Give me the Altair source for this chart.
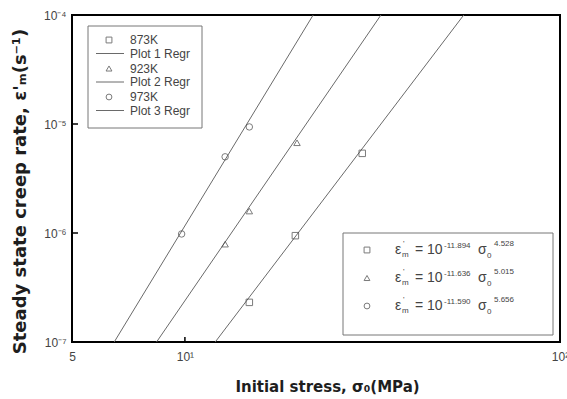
import altair as alt
import pandas as pd
import numpy as np

# Creep data: initial stress (MPa) vs steady state creep rate (1/s)
temps = ["873K", "923K", "973K"]
shapes = ["square", "triangle-up", "circle"]
intercepts = [-11.894, -11.636, -11.590]   # log10 prefactor of the power law
exponents = [4.528, 5.015, 5.656]          # stress exponent n

stress_873 = [14.85, 19.7, 29.7]
rate_873 = [2.31e-7, 9.45e-7, 5.38e-6]
stress_923 = [12.8, 14.85, 19.9]
rate_923 = [7.9e-7, 1.59e-6, 6.73e-6]
stress_973 = [9.8, 12.8, 14.85]
rate_973 = [9.8e-7, 5.0e-6, 9.4e-6]

x_ticks = [5, 10, 100]
y_ticks = [1e-7, 1e-6, 1e-5, 1e-4]
x_limits = [5, 100]
y_limits = [1e-7, 1e-4]

W, H = 488, 327
INK = "#444444"
LINE = "#6a6a6a"

xscale = alt.Scale(type="log", domain=x_limits, nice=False)
yscale = alt.Scale(type="log", domain=y_limits, nice=False)

x_axis = alt.Axis(
    values=x_ticks,
    labelExpr="datum.value < 6 ? '5' : datum.value < 50 ? '10\u00b9' : '10\u00b2'",
    labelPadding=9,
    labelFlush=False,
    labelOverlap=False,
    title="Initial stress, \u03c3\u2080(MPa)",
    titleFontSize=15,
    titleX=255, titleY=44, titleBaseline="middle", titleAlign="center",
)
y_axis = alt.Axis(
    values=y_ticks,
    labelExpr="'10' + (datum.value < 5e-7 ? '\u207b\u2077' : datum.value < 5e-6 ? '\u207b\u2076' : datum.value < 5e-5 ? '\u207b\u2075' : '\u207b\u2074')",
    labelPadding=6,
    labelFlush=False,
    labelOverlap=False,
    title="Steady state creep rate, \u03b5'\u2098(s\u207b\u00b9)",
    titleFontSize=18,
    titleAngle=270, titleX=-52, titleY=176, titleBaseline="middle", titleAlign="center",
)

series = [
    (stress_873, rate_873),
    (stress_923, rate_923),
    (stress_973, rate_973),
]

layers = []

# regression lines: log10(rate) = a + n * log10(stress)
for a, n in zip(intercepts, exponents):
    s = np.array(x_limits, dtype=float)
    fit = pd.DataFrame({"stress": s, "rate": 10 ** (a + n * np.log10(s))})
    layers.append(
        alt.Chart(fit).mark_line(color=LINE, strokeWidth=1, clip=True).encode(
            x=alt.X("stress:Q", scale=xscale, axis=x_axis),
            y=alt.Y("rate:Q", scale=yscale, axis=y_axis),
        )
    )

# measured points
for (st, rt), shp, t in zip(series, shapes, temps):
    df = pd.DataFrame({"stress": st, "rate": rt, "temp": t})
    layers.append(
        alt.Chart(df).mark_point(shape=shp, filled=False, color=INK, size=42, strokeWidth=1).encode(
            x=alt.X("stress:Q", scale=xscale),
            y=alt.Y("rate:Q", scale=yscale),
        )
    )

# inward tick marks
layers.append(
    alt.Chart(pd.DataFrame({"rate": [1e-6, 1e-5]})).mark_rule(color="black", strokeWidth=1.5).encode(
        y=alt.Y("rate:Q", scale=yscale), x=alt.value(0), x2=alt.value(6)
    )
)
layers.append(
    alt.Chart(pd.DataFrame({"stress": [10]})).mark_rule(color="black", strokeWidth=1.5).encode(
        x=alt.X("stress:Q", scale=xscale), y=alt.value(H), y2=alt.value(H - 5)
    )
)

one = pd.DataFrame({"k": [0]})


def box(x0, y0, x1, y1):
    return alt.Chart(one).mark_rect(fill="white", stroke="#777777", strokeWidth=1).encode(
        x=alt.value(x0), x2=alt.value(x1), y=alt.value(y0), y2=alt.value(y1)
    )


def label(t, x, y, size, font="Liberation Sans", color=INK, weight="normal"):
    return alt.Chart(one).mark_text(
        text=t, font=font, fontSize=size, color=color, fontWeight=weight,
        align="left", baseline="alphabetic",
    ).encode(x=alt.value(x), y=alt.value(y))


def symbol(shp, x, y):
    return alt.Chart(one).mark_point(shape=shp, filled=False, color=INK, size=34, strokeWidth=1).encode(
        x=alt.value(x), y=alt.value(y)
    )


def swatch(x0, x1, y):
    return alt.Chart(one).mark_rule(color=LINE, strokeWidth=1).encode(
        x=alt.value(x0), x2=alt.value(x1), y=alt.value(y)
    )


# key in the upper left
layers.append(box(16, 11, 130, 113))
row_y = 25
for i, (t, shp) in enumerate(zip(temps, shapes)):
    layers.append(symbol(shp, 37, row_y))
    layers.append(label(t, 58, row_y + 4, 12))
    layers.append(swatch(24, 52, row_y + 13.5))
    layers.append(label(f"Plot {i + 1} Regr", 58, row_y + 17.5, 12))
    row_y += 28.5

# fitted power laws in the lower right
layers.append(box(271, 218, 481, 320))
for i, (shp, a, n) in enumerate(zip(shapes, intercepts, exponents)):
    b = 239 + i * 28
    layers.append(symbol(shp, 295, b - 4))
    layers.append(label("\u03b5", 323, b, 14))
    layers.append(label("'", 331, b - 8, 8))
    layers.append(label("m", 330, b + 3, 8))
    layers.append(label("= 10", 343, b, 14))
    layers.append(label(f"{a:.3f}", 372, b - 6, 8))
    layers.append(label("\u03c3", 406, b, 14))
    layers.append(label("0", 415, b + 4, 8))
    layers.append(label(f"{n:.3f}", 422, b - 8, 8))

chart = alt.layer(*layers).properties(
    width=W,
    height=H,
    autosize=alt.AutoSizeParams(type="none"),
    padding={"left": 72, "top": 15, "right": 7, "bottom": 57},
    background="white",
).configure_view(
    stroke="black", strokeWidth=2
).configure_axis(
    labelFont="Liberation Sans",
    labelFontSize=12,
    labelColor=INK,
    titleFont="DejaVu Sans",
    titleFontWeight="bold",
    titleColor="#1e1e1e",
    grid=False,
    domain=False,
    ticks=False,
    tickSize=0,
)

chart.save("out.html", embed_options={"renderer": "svg", "actions": False})
